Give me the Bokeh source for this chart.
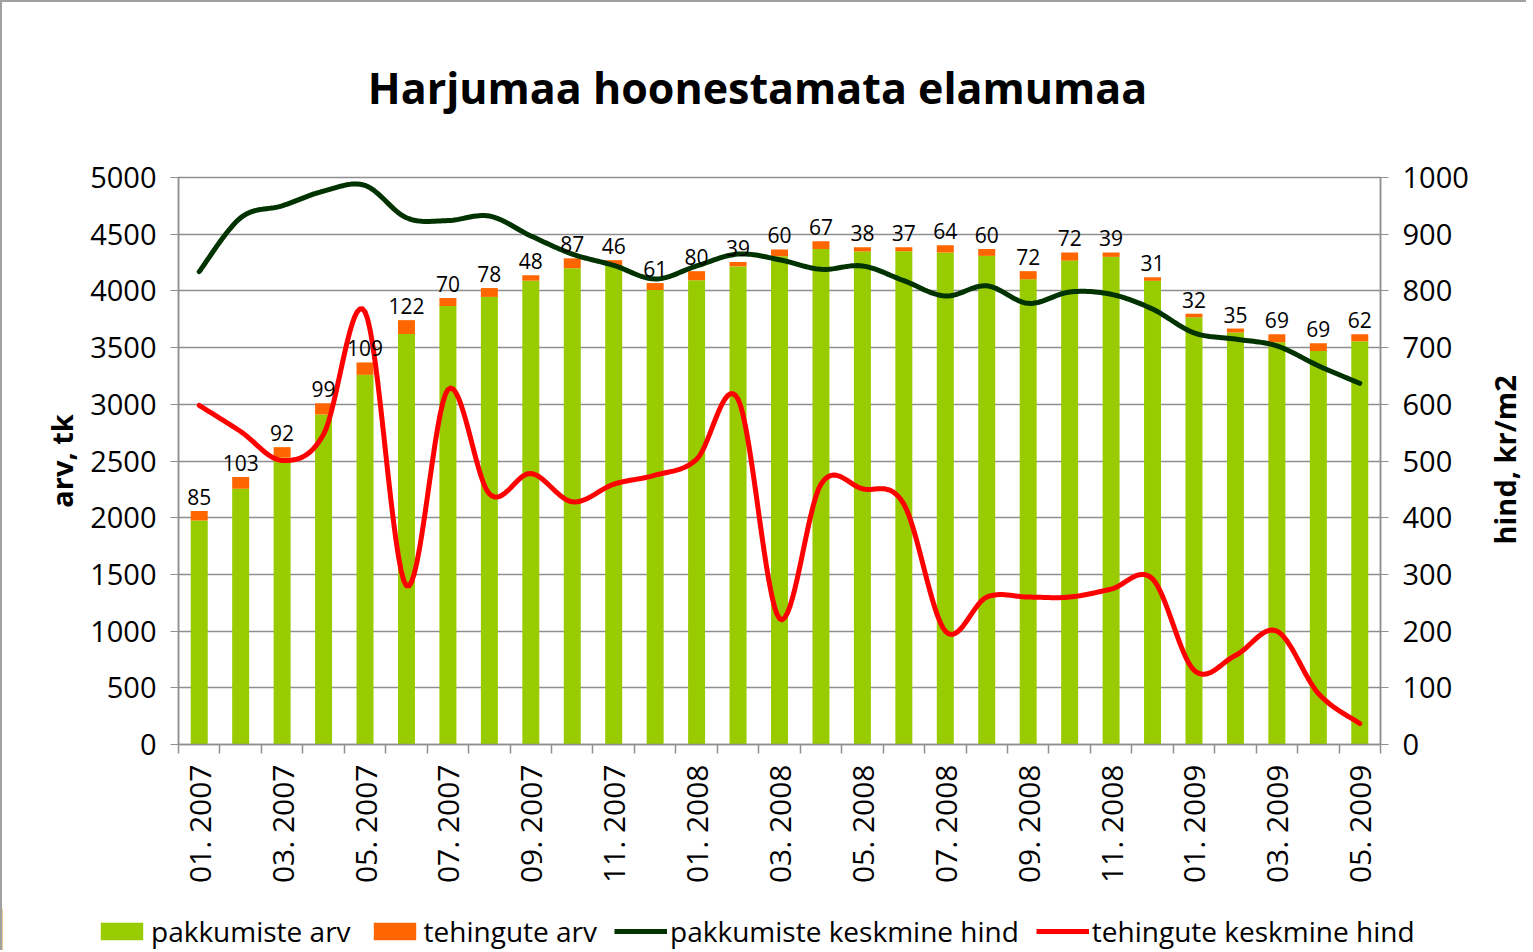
import numpy as np
from bokeh.plotting import figure
from bokeh.layouts import column, row
from bokeh.models import (Range1d, LinearAxis, FixedTicker, ColumnDataSource,
                          Legend, LegendItem)
from bokeh.embed import file_html
from bokeh.resources import INLINE
from bokeh.core.properties import value

# ---------------- data ----------------
months = ["01. 2007", "02. 2007", "03. 2007", "04. 2007", "05. 2007", "06. 2007",
          "07. 2007", "08. 2007", "09. 2007", "10. 2007", "11. 2007", "12. 2007",
          "01. 2008", "02. 2008", "03. 2008", "04. 2008", "05. 2008", "06. 2008",
          "07. 2008", "08. 2008", "09. 2008", "10. 2008", "11. 2008", "12. 2008",
          "01. 2009", "02. 2009", "03. 2009", "04. 2009", "05. 2009"]
offers_count = [1975, 2255, 2530, 2910, 3260, 3620, 3867, 3947, 4090, 4200,
                4225, 4008, 4094, 4216, 4306, 4370, 4348, 4349, 4339, 4309,
                4102, 4267, 4300, 4089, 3767, 3633, 3548, 3470, 3555]
deals_count = [85, 103, 92, 99, 109, 122, 70, 78, 48, 87, 46, 61, 80, 39, 60,
               67, 38, 37, 64, 60, 72, 72, 39, 31, 32, 35, 69, 69, 62]
offer_price = [834, 929, 950, 976, 986, 929, 924, 932, 897, 865, 845, 821, 844,
               865, 855, 838, 844, 818, 791, 809, 778, 798, 794, 768, 726, 715,
               703, 668, 637]
deal_price = [598, 552, 501, 547, 763, 280, 626, 442, 478, 428, 459, 475, 503,
              609, 222, 459, 451, 424, 200, 260, 260, 260, 274, 292, 131, 157,
              200, 90, 37]
series_names = ["pakkumiste arv", "tehingute arv",
                "pakkumiste keskmine hind", "tehingute keskmine hind"]
title_text = "Harjumaa hoonestamata elamumaa"
left_label = "arv, tk"
right_label = "hind, kr/m2"

FONT = "Open Sans"
GRID = "#8f8f8f"
C_OFF, C_DEAL, C_POFF, C_PDEAL = "#99CC00", "#FF6600", "#003300", "#FF0000"


def smooth(xs, ys, n=16):
    """Catmull-Rom rendering of a smoothed line through the data points."""
    P = np.column_stack([xs, ys]).astype(float)
    P = np.vstack([P[0], P, P[-1]])
    out = []
    for i in range(1, len(P) - 2):
        p0, p1, p2, p3 = P[i - 1], P[i], P[i + 1], P[i + 2]
        for t in np.linspace(0, 1, n, endpoint=False):
            t2, t3 = t * t, t * t * t
            pt = 0.5 * ((2 * p1) + (-p0 + p2) * t + (2 * p0 - 5 * p1 + 4 * p2 - p3) * t2
                        + (-p0 + 3 * p1 - 3 * p2 + p3) * t3)
            out.append(pt)
    out.append(P[-2])
    out = np.array(out)
    return out[:, 0], out[:, 1]


# ---------------- geometry ----------------
H_TITLE = 120
W_MAIN, H_MAIN = 1480, 786
W_SIDE = 44
H_LEG = 42
MB_L, MB_R, MB_T, MB_B = 176, 102, 55, 164
FRAME_H = H_MAIN - MB_T - MB_B
SIDE_SHIFT = 53

idx = list(range(len(months)))
total = [o + d for o, d in zip(offers_count, deals_count)]
src = ColumnDataSource(dict(x=idx, offers=offers_count, total=total,
                            lbl=[str(d) for d in deals_count]))

# ---------------- title strip ----------------
tf = figure(width=W_MAIN + W_SIDE, height=H_TITLE, output_backend="svg",
            toolbar_location=None, x_range=Range1d(0, W_MAIN + W_SIDE),
            y_range=Range1d(0, H_TITLE), min_border=0,
            x_axis_location=None, y_axis_location=None)
tf.outline_line_color = None
tf.grid.visible = False
tf.title.visible = False
tf.text(x=[755], y=[H_TITLE - 85], text=[title_text], text_align="center",
        text_baseline="middle", text_font=value(FONT), text_font_size="43px",
        text_font_style="bold", text_color="#000000")

# ---------------- main chart ----------------
p = figure(width=W_MAIN, height=H_MAIN, output_backend="svg", toolbar_location=None,
           x_range=Range1d(-0.5, len(months) - 0.5), y_range=Range1d(0, 5000),
           min_border_left=MB_L, min_border_right=MB_R, min_border_top=MB_T,
           min_border_bottom=MB_B)
p.title.visible = False
p.extra_y_ranges = {"price": Range1d(0, 1000)}

p.vbar(x="x", top="offers", bottom=0, width=0.41, source=src,
       fill_color=C_OFF, line_color=None)
p.vbar(x="x", bottom="offers", top="total", width=0.41, source=src,
       fill_color=C_DEAL, line_color=None)

sx, sy = smooth(idx, offer_price)
p.line(sx, sy, y_range_name="price", line_color=C_POFF, line_width=5,
       line_cap="round", line_join="round")
rx, ry = smooth(idx, deal_price)
p.line(rx, ry, y_range_name="price", line_color=C_PDEAL, line_width=5,
       line_cap="round", line_join="round")

p.text(x="x", y="total", text="lbl", source=src, text_align="center",
       text_baseline="bottom", y_offset=-6, text_font=value(FONT),
       text_font_size="21px", text_color="#000000")

# frame & grid
p.outline_line_color = GRID
p.outline_line_width = 1.5
p.xgrid.visible = False
p.ygrid.grid_line_color = GRID
p.ygrid.grid_line_width = 1.5
p.ygrid.ticker = FixedTicker(ticks=list(range(0, 5001, 500)))

# x axis
xa = p.xaxis[0]
xa.ticker = FixedTicker(ticks=list(range(0, len(months), 2)),
                        minor_ticks=[i - 0.5 for i in range(len(months) + 1)])
xa.major_label_overrides = {i: months[i] for i in range(0, len(months), 2)}
xa.major_label_orientation = np.pi / 2
xa.major_tick_line_color = None
xa.minor_tick_line_color = GRID
xa.minor_tick_line_width = 1.5
xa.minor_tick_in = 0
xa.minor_tick_out = 9
xa.axis_line_color = GRID
xa.axis_line_width = 1.5
xa.major_label_text_font = FONT
xa.major_label_text_font_size = "30px"
xa.major_label_text_color = "#000000"
xa.major_label_standoff = 11

# left axis
ya = p.yaxis[0]
ya.ticker = FixedTicker(ticks=list(range(0, 5001, 500)))
ya.axis_label = left_label
ya.axis_label_text_font = FONT
ya.axis_label_text_font_size = "29px"
ya.axis_label_text_font_style = "bold"
ya.axis_label_text_color = "#000000"
ya.axis_label_standoff = 6
ya.major_label_text_font = FONT
ya.major_label_text_font_size = "29px"
ya.major_label_text_color = "#000000"
ya.major_label_standoff = 14
ya.major_tick_in = 0
ya.major_tick_out = 8
ya.major_tick_line_color = GRID
ya.minor_tick_line_color = None
ya.axis_line_color = GRID
ya.axis_line_width = 1.5

# right axis (its title is drawn in the side strip, reading upwards)
ra = LinearAxis(y_range_name="price", ticker=FixedTicker(ticks=list(range(0, 1001, 100))))
ra.major_label_text_font = FONT
ra.major_label_text_font_size = "29px"
ra.major_label_text_color = "#000000"
ra.major_label_standoff = 14
ra.major_tick_in = 0
ra.major_tick_out = 8
ra.major_tick_line_color = GRID
ra.minor_tick_line_color = None
ra.axis_line_color = GRID
ra.axis_line_width = 1.5
p.add_layout(ra, "right")

# side strip with the right axis title
side = figure(width=W_SIDE, height=H_MAIN, output_backend="svg", toolbar_location=None,
              x_range=Range1d(0, W_SIDE), y_range=Range1d(0, H_MAIN),
              min_border=0, x_axis_location=None, y_axis_location=None)
side.outline_line_color = None
side.grid.visible = False
side.title.visible = False
side.text(x=[W_SIDE / 2], y=[MB_B + FRAME_H / 2 - SIDE_SHIFT], text=[right_label],
          angle=np.pi / 2, text_align="center", text_baseline="middle",
          text_font=value(FONT), text_font_size="29px", text_font_style="bold",
          text_color="#000000")

# legend strip (legend swatches come from renderers placed outside the visible range)
leg = figure(width=W_MAIN + W_SIDE, height=H_LEG, output_backend="svg", toolbar_location=None,
             x_range=Range1d(0, 1), y_range=Range1d(0, 1), min_border=0,
             x_axis_location=None, y_axis_location=None)
leg.outline_line_color = None
leg.grid.visible = False
leg.title.visible = False
r1 = leg.vbar(x=[-5], top=[1], width=0.1, fill_color=C_OFF, line_color=None)
r2 = leg.vbar(x=[-5], top=[1], width=0.1, fill_color=C_DEAL, line_color=None)
r3 = leg.line(x=[-6, -5], y=[0.5, 0.5], line_color=C_POFF, line_width=5)
r4 = leg.line(x=[-6, -5], y=[0.5, 0.5], line_color=C_PDEAL, line_width=5)
legend = Legend(items=[LegendItem(label=n, renderers=[r]) for n, r in
                       zip(series_names, [r1, r2, r3, r4])],
                orientation="horizontal", location=(93, 0))
legend.label_text_font = FONT
legend.label_text_font_size = "28px"
legend.label_text_color = "#000000"
legend.glyph_width = 53
legend.glyph_height = 22
legend.label_standoff = 3
legend.spacing = 17
legend.padding = 0
legend.margin = 0
legend.border_line_color = None
legend.background_fill_alpha = 0
leg.add_layout(legend)

layout = column(tf, row(p, side), leg,
                styles={"border-top": "2px solid #a0a0a0", "border-left": "2px solid #a0a0a0"})

open("out.html", "w").write(file_html(layout, INLINE))
